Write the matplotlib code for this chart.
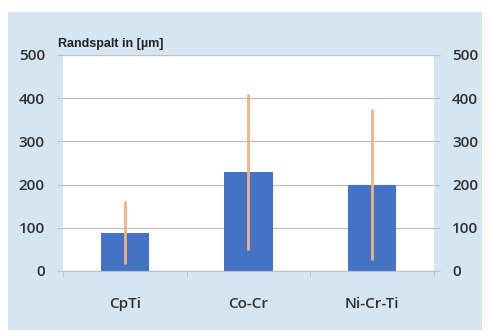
import numpy as np
import matplotlib.pyplot as plt
from matplotlib.patches import Rectangle

categories = ['CpTi', 'Co-Cr', 'Ni-Cr-Ti']
gap_mean = [89, 229, 200]
gap_sd = [73, 181, 174]
yticks = [0, 100, 200, 300, 400, 500]

W, H = 489, 331
fig = plt.figure(figsize=(W / 100, H / 100), dpi=100)
fig.patch.set_facecolor('white')
# light blue panel behind the chart
fig.patches.append(Rectangle((8 / W, 1 / H), 474 / W, 318 / H, transform=fig.transFigure,
                             facecolor='#d5e5f1', edgecolor='none', zorder=-10))

ax = fig.add_axes([63 / W, (H - 271) / H, 371 / W, 216 / H])
ax.set_facecolor('white')
x = np.arange(len(categories))
ax.bar(x, gap_mean, width=0.39, color='#4472c4', zorder=2)
ax.errorbar(x, gap_mean, yerr=gap_sd, fmt='none', ecolor='#f4b183', elinewidth=2.0,
            capsize=0, zorder=3)

ax.set_xlim(-0.5, 2.5)
ax.set_ylim(0, 500)
ax.set_yticks(yticks)
ax.grid(axis='y', color='#bfbfbf', linewidth=0.9, zorder=1)
ax.set_axisbelow(True)
for s in ['top', 'left', 'right']:
    ax.spines[s].set_visible(False)
ax.spines['bottom'].set_color('#bfbfbf')

ax.set_xticks(x)
ax.set_xticklabels(categories)
ax.set_xticks([-0.5, 0.5, 1.5, 2.5], minor=True)
ax.tick_params(axis='x', which='major', length=0, pad=19, labelsize=11, labelcolor='#303030')
ax.tick_params(axis='x', which='minor', length=4, color='#bfbfbf')
ax.tick_params(axis='y', length=4, color='#bfbfbf', pad=9, labelsize=11, labelcolor='#303030')

ax2 = ax.twinx()
ax2.set_ylim(ax.get_ylim())
ax2.set_yticks(yticks)
for s in ax2.spines.values():
    s.set_visible(False)
ax2.tick_params(axis='y', length=4, color='#bfbfbf', pad=9, labelsize=11, labelcolor='#303030')

for a in (ax, ax2):
    for lab in a.get_yticklabels() + a.get_xticklabels():
        lab.set_fontfamily('Open Sans')
        lab.set_fontweight('semibold')

fig.text(58 / W, (H - 44) / H, 'Randspalt in [µm]', fontsize=9, fontweight='bold',
         color='#202020', family='Liberation Sans', va='center')

fig.savefig('out.png', dpi=100)
